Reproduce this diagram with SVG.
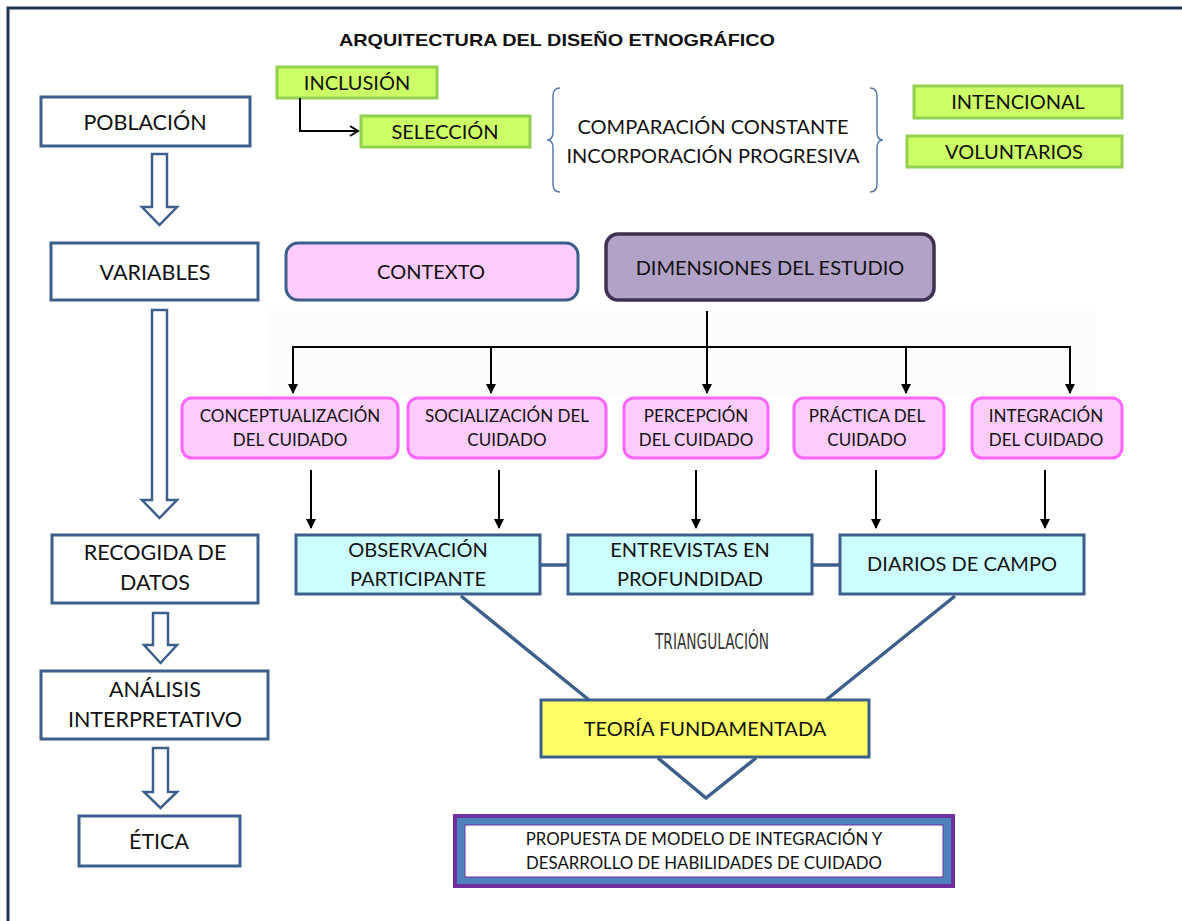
<svg xmlns="http://www.w3.org/2000/svg" width="1182" height="921" viewBox="0 0 1182 921">
<defs>
<marker id="ah" markerWidth="10" markerHeight="10" refX="9" refY="5" orient="auto" markerUnits="userSpaceOnUse">
<path d="M0,0 L10,5 L0,10 Z" fill="#000"/>
</marker>
<marker id="oa" markerWidth="12" markerHeight="12" refX="10" refY="6" orient="auto" markerUnits="userSpaceOnUse">
<path d="M2,1 L10,6 L2,11" fill="none" stroke="#000" stroke-width="2"/>
</marker>
<style>
text{font-family:Lato,"Liberation Sans",sans-serif;fill:#111;text-anchor:middle}
.step{fill:#fff;stroke:#3c5f8c;stroke-width:3}
.grn{fill:#ccff66;stroke:#92d050;stroke-width:3}
.pink{fill:#ffccff;stroke:#ff66ff;stroke-width:3}
.cyan{fill:#ccffff;stroke:#3c5f8c;stroke-width:3}
.blk{fill:#fff;stroke:#3c5f8c;stroke-width:2.5}
.t21{font-size:21.5px}
.t20{font-size:20px}
.t17{font-size:17px}
.t16{font-size:16.8px}
.ln{fill:none;stroke:#000;stroke-width:2}
.bl{fill:none;stroke:#3c5f8c;stroke-width:3.5}
.brace{fill:none;stroke:#5a79a8;stroke-width:1.5}
</style>
</defs>
<rect width="1182" height="921" fill="#fff"/>
<path d="M8,921 V8 H1182" fill="none" stroke="#1f3856" stroke-width="3"/>
<rect x="268" y="310" width="828" height="86" fill="#fcfcfc"/>
<text x="557" y="46" style="font-size:17px;font-weight:bold;font-family:'Liberation Sans',sans-serif" textLength="436" lengthAdjust="spacingAndGlyphs">ARQUITECTURA DEL DISEÑO ETNOGRÁFICO</text>

<g id="poblacion"><rect class="step" x="41" y="97" width="209" height="49"/><text class="t21" x="145" y="130">POBLACIÓN</text></g>
<g id="variables"><rect class="step" x="51" y="243" width="207" height="57"/><text class="t21" x="155" y="280">VARIABLES</text></g>
<g id="recogida"><rect class="step" x="52" y="535" width="206" height="68"/><text class="t21" x="155" y="560">RECOGIDA DE</text><text class="t21" x="155" y="590">DATOS</text></g>
<g id="analisis"><rect class="step" x="41" y="671" width="227" height="68"/><text class="t21" x="155" y="697">ANÁLISIS</text><text class="t21" x="155" y="727">INTERPRETATIVO</text></g>
<g id="etica"><rect class="step" x="79" y="816" width="161" height="50"/><text class="t21" x="159" y="849">ÉTICA</text></g>

<g id="inclusion"><rect class="grn" x="277" y="67" width="160" height="31"/><text class="t20" x="357" y="90">INCLUSIÓN</text></g>
<g id="seleccion"><rect class="grn" x="361" y="116" width="169" height="31"/><text class="t20" x="445" y="139">SELECCIÓN</text></g>
<g id="intencional"><rect class="grn" x="914" y="86" width="208" height="32"/><text class="t20" x="1018" y="109">INTENCIONAL</text></g>
<g id="voluntarios"><rect class="grn" x="907" y="136" width="215" height="31"/><text class="t20" x="1014" y="159">VOLUNTARIOS</text></g>

<g id="comparacion">
<path class="brace" d="M560,88 Q553,88 553,96 V132 Q553,140 547,140 Q553,140 553,148 V184 Q553,192 560,192"/>
<path class="brace" d="M870,88 Q877,88 877,96 V132 Q877,140 883,140 Q877,140 877,148 V184 Q877,192 870,192"/>
<text class="t20" x="713" y="134">COMPARACIÓN CONSTANTE</text>
<text class="t20" x="713" y="163">INCORPORACIÓN PROGRESIVA</text>
</g>

<g id="contexto"><rect x="286" y="243" width="292" height="57" rx="12" fill="#ffccff" stroke="#3c5f8c" stroke-width="3"/><text class="t20" x="431" y="279">CONTEXTO</text></g>
<g id="dimensiones"><rect x="606" y="234" width="328" height="66" rx="12" fill="#b3a2c7" stroke="#3f3151" stroke-width="3.5"/><text class="t20" x="770" y="275">DIMENSIONES DEL ESTUDIO</text></g>

<g id="conceptualizacion"><rect class="pink" x="182" y="398" width="216" height="60" rx="10"/><text class="t17" x="290" y="422">CONCEPTUALIZACIÓN</text><text class="t17" x="290" y="446">DEL CUIDADO</text></g>
<g id="socializacion"><rect class="pink" x="408" y="398" width="198" height="60" rx="10"/><text class="t17" x="507" y="422">SOCIALIZACIÓN DEL</text><text class="t17" x="507" y="446">CUIDADO</text></g>
<g id="percepcion"><rect class="pink" x="624" y="398" width="144" height="60" rx="10"/><text class="t17" x="696" y="422">PERCEPCIÓN</text><text class="t17" x="696" y="446">DEL CUIDADO</text></g>
<g id="practica"><rect class="pink" x="794" y="398" width="150" height="60" rx="10"/><text class="t17" x="867" y="422">PRÁCTICA DEL</text><text class="t17" x="867" y="446">CUIDADO</text></g>
<g id="integracion"><rect class="pink" x="972" y="398" width="150" height="60" rx="10"/><text class="t17" x="1046" y="422">INTEGRACIÓN</text><text class="t17" x="1046" y="446">DEL CUIDADO</text></g>

<g id="observacion"><rect class="cyan" x="296" y="535" width="244" height="59"/><text class="t20" x="418" y="557">OBSERVACIÓN</text><text class="t20" x="418" y="586">PARTICIPANTE</text></g>
<g id="entrevistas"><rect class="cyan" x="568" y="535" width="244" height="59"/><text class="t20" x="690" y="557">ENTREVISTAS EN</text><text class="t20" x="690" y="586">PROFUNDIDAD</text></g>
<g id="diarios"><rect class="cyan" x="840" y="535" width="244" height="59"/><text class="t20" x="962" y="571">DIARIOS DE CAMPO</text></g>

<text x="712" y="649" style="font-size:22px;font-family:'DejaVu Sans Condensed','Liberation Sans',sans-serif;fill:#333" textLength="114" lengthAdjust="spacingAndGlyphs">TRIANGULACIÓN</text>

<g id="teoria"><rect x="541" y="700" width="328" height="57" fill="#ffff66" stroke="#3c5f8c" stroke-width="3"/><text class="t20" x="705" y="736">TEORÍA FUNDAMENTADA</text></g>

<g id="propuesta">
<rect x="455" y="816" width="498" height="70" fill="#4f81bd" stroke="#7030a0" stroke-width="4"/>
<rect x="465" y="825" width="478" height="52" fill="#fff" stroke="#7030a0" stroke-width="1"/>
<text class="t16" x="704" y="845">PROPUESTA DE MODELO DE INTEGRACIÓN Y</text>
<text class="t16" x="704" y="869">DESARROLLO DE HABILIDADES DE CUIDADO</text>
</g>

<g id="connectors">
<path class="blk" d="M152,154 H167 V207 H177 L159.5,225 L142,207 H152 Z"/>
<path class="blk" d="M152,310 H167 V500 H177 L159.5,518 L142,500 H152 Z"/>
<path class="blk" d="M153,613 H168 V645 H177 L160.5,663 L144,645 H153 Z"/>
<path class="blk" d="M153,748 H168 V792 H177 L160.5,808 L144,792 H153 Z"/>
<path class="ln" d="M300,98 V131 H358" marker-end="url(#oa)"/>
<path class="ln" d="M707,311 V393" marker-end="url(#ah)"/>
<path class="ln" d="M293,393 V347 H1070 V393" marker-end="url(#ah)"/>
<path class="ln" d="M293,347 V393" marker-end="url(#ah)"/>
<path class="ln" d="M491,347 V393" marker-end="url(#ah)"/>
<path class="ln" d="M906,347 V393" marker-end="url(#ah)"/>
<path class="ln" d="M311,470 V528" marker-end="url(#ah)"/>
<path class="ln" d="M499,470 V528" marker-end="url(#ah)"/>
<path class="ln" d="M696,470 V528" marker-end="url(#ah)"/>
<path class="ln" d="M876,470 V528" marker-end="url(#ah)"/>
<path class="ln" d="M1045,470 V528" marker-end="url(#ah)"/>
<path class="bl" d="M540,565 H568 M812,565 H840"/>
<path class="bl" d="M461,596 L589,700 M955,596 L826,700"/>
<path class="bl" d="M658,758 L706,798 L756,758"/>
</g>
</svg>
